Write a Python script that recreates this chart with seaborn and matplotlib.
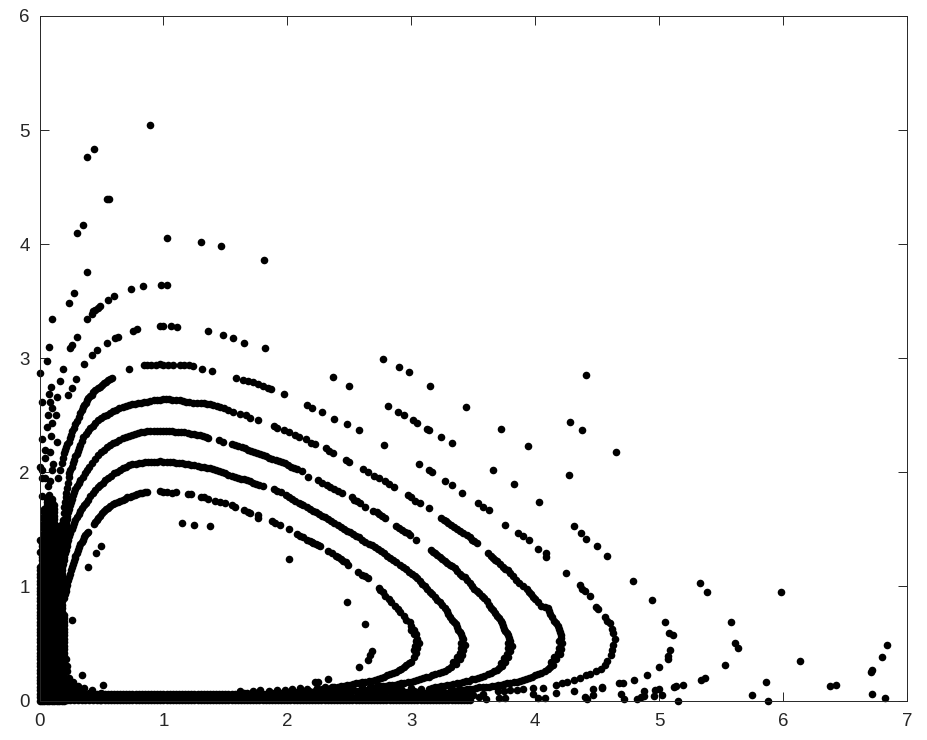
import pandas as pd
import matplotlib
matplotlib.use('Agg')
import matplotlib.pyplot as plt
import seaborn as sns

# orbits, innermost first, (x, y)
orbit_1 = [(.2,.9),(.21,.96),(.22,1.01),(.23,1.06),(.245,1.11),(.26,1.17),(.275,1.22),(.29,1.27),(.31,1.32),(.33,1.37),(.35,1.41),(.37,1.45),(.39,1.48),
    (.44,1.55),(.46,1.58),(.49,1.62),(.52,1.66),(.55,1.69),(.59,1.72),(.63,1.74),(.67,1.76),(.71,1.78),(.75,1.79),(.79,1.81),(.83,1.82),(.87,1.83),(.97,1.84),(1.0,1.83),(1.03,1.83),(1.07,1.82),(1.1,1.83),
    (1.2,1.81),(1.22,1.81),(1.3,1.78),(1.33,1.78),(1.36,1.77),(1.42,1.75),(1.46,1.74),(1.5,1.73),(1.55,1.71),(1.58,1.70),(1.65,1.67),(1.68,1.65),(1.7,1.64),(1.76,1.63),(1.76,1.60),(1.88,1.57),(1.9,1.56),(1.94,1.54),
    (2.01,1.50),(2.08,1.46),(2.1,1.44),(2.13,1.43),(2.16,1.41),(2.2,1.39),(2.23,1.37),(2.26,1.35),(2.33,1.31),(2.36,1.29),(2.39,1.27),(2.43,1.24),(2.47,1.21),(2.49,1.19),(2.57,1.13),(2.6,1.10),(2.63,1.09),(2.65,1.07),
    (2.74,.99),(2.75,.97),(2.77,.95),(2.79,.92),(2.82,.89),(2.84,.86),(2.87,.83),(2.89,.80),(2.91,.78),(2.94,.74),(2.96,.71),(2.99,.69),(3.0,.65),(3.02,.62),(3.04,.58),(3.05,.54),(3.06,.50),(3.05,.46),(3.04,.42),(3.02,.38),(3.0,.34),
    (2.96,.31),(2.92,.28),(2.88,.25),(2.83,.23),(2.78,.21),(2.73,.19),(2.68,.175),(2.63,.165),(2.58,.155),(2.53,.145),(2.48,.135),(2.43,.125),(2.38,.115),(2.33,.105),(2.28,.10),(2.23,.095)]
orbit_1_more = [(.205,.93),(.215,.985),(.225,1.035),(.238,1.085),(.252,1.14),(.268,1.195),(.283,1.245),(.3,1.295),(.32,1.345),(.34,1.39),(.36,1.43),(.38,1.465),(.45,1.565),(.475,1.6),(.505,1.64),(.535,1.675),(.57,1.705),(.61,1.73),(.65,1.75),(.69,1.77),(.73,1.785),(.77,1.8),(.81,1.815),(.85,1.825),
    (2.18,1.4),(2.21,1.38),(2.245,1.36),(2.41,1.255),(2.45,1.225),(2.98,.325),(2.94,.295),(2.9,.265),(2.855,.24),(2.805,.22),(2.755,.2),(2.705,.18),(2.655,.17),(2.605,.16),(2.555,.15),(2.505,.14),(2.455,.13),(2.405,.12),(2.355,.11),(2.305,.1),
    (3.02,.44),(3.03,.48),(3.04,.52),(3.02,.58),(3.0,.62)]

orbit_2 = [(.19,1.2),(.2,1.26),(.21,1.32),(.225,1.38),(.24,1.44),(.26,1.5),(.28,1.56),(.3,1.61),(.33,1.66),(.36,1.71),(.39,1.76),(.43,1.82),(.47,1.87),(.51,1.91),(.55,1.95),(.6,1.99),(.65,2.02),(.7,2.05),(.75,2.07),(.8,2.08),(.85,2.09),(.9,2.09),(.95,2.09),(1.0,2.09),(1.05,2.09),(1.1,2.085),(1.15,2.08),(1.2,2.07),(1.25,2.06),(1.3,2.05),(1.35,2.04),(1.4,2.03),(1.45,2.01),(1.5,1.99),(1.55,1.97),(1.6,1.95),(1.65,1.94),(1.7,1.92),(1.75,1.90),(1.8,1.88),(1.89,1.85),(1.92,1.84),(1.95,1.83),
    (1.99,1.80),(2.04,1.77),(2.09,1.73),(2.13,1.71),(2.18,1.68),(2.23,1.65),(2.28,1.62),(2.33,1.59),(2.38,1.56),(2.43,1.52),(2.48,1.49),(2.53,1.46),(2.58,1.43),(2.63,1.39),(2.68,1.36),(2.73,1.33),(2.78,1.29),(2.83,1.25),(2.88,1.21),(2.93,1.17),(2.98,1.13),(3.03,1.09),(3.07,1.05),(3.11,1.0),(3.15,.95),(3.19,.91),(3.23,.86),(3.27,.81),(3.3,.76),(3.33,.71),(3.36,.67),(3.38,.62),(3.4,.58),(3.42,.54),(3.43,.49),(3.42,.44),(3.41,.40),(3.39,.36),(3.36,.32),
    (3.32,.29),(3.27,.26),(3.22,.24),(3.17,.22),(3.12,.205),(3.07,.19),(3.02,.175),(2.97,.16),(2.92,.15),(2.87,.14),(2.82,.135),(2.77,.13),(2.72,.125),(2.67,.12)]
orbit_2_more = [(.195,1.23),(.205,1.29),(.218,1.35),(.232,1.41),(.25,1.47),(.27,1.53),(.29,1.585),(.315,1.635),(.345,1.685),(.375,1.735),(.41,1.79),(.45,1.845),(.49,1.89),(.53,1.93),(.575,1.97),(.625,2.005),(.675,2.035),(.725,2.06),(.775,2.075),(.825,2.085),(.875,2.09),(.925,2.09),(.975,2.095),(1.025,2.09),(1.075,2.09),(1.125,2.08),(1.175,2.075),(1.225,2.065),(1.275,2.055),(1.325,2.045),(1.375,2.035),(1.425,2.02),(1.475,2.0),(1.525,1.98),(1.575,1.96),(1.625,1.945),(1.675,1.93),(1.725,1.91),(1.775,1.89),
    (2.015,1.785),(2.065,1.75),(2.11,1.72),(2.155,1.695),(2.205,1.665),(2.255,1.635),(2.305,1.605),(2.355,1.575),(2.405,1.54),(2.455,1.505),(2.505,1.475),(2.555,1.445),(2.605,1.41),(2.655,1.375),(2.705,1.345),(2.755,1.31),(2.805,1.27),(2.855,1.23),(2.905,1.19),(2.955,1.15),(3.005,1.11),(3.05,1.07),(3.09,1.025),(3.13,.975),(3.17,.93),(3.21,.885),(3.25,.835),(3.285,.785),(3.315,.735),(3.345,.69),(3.37,.645),(3.39,.6),(3.41,.56),(3.4,.5),(3.4,.46),(3.39,.42),(3.37,.38),(3.34,.34),
    (3.295,.275),(3.245,.25),(3.195,.23),(3.145,.21),(3.095,.195),(3.045,.18),(2.995,.165),(2.945,.155),(2.895,.145),(2.845,.135),(2.795,.13),(2.745,.125)]

orbit_3 = [(.18,1.35),(.19,1.41),(.2,1.47),(.21,1.53),(.22,1.59),(.23,1.65),(.245,1.71),(.26,1.77),(.28,1.83),(.3,1.88),(.33,1.93),(.35,1.96),(.38,2.02),(.42,2.08),(.47,2.15),(.52,2.2),(.57,2.24),(.62,2.27),(.67,2.3),(.72,2.32),(.77,2.335),(.82,2.35),(.87,2.36),(.92,2.36),(.97,2.365),(1.02,2.36),(1.07,2.36),(1.12,2.355),(1.17,2.35),(1.22,2.34),(1.27,2.33),(1.32,2.32),(1.36,2.305),
    (1.45,2.28),(1.48,2.27),(1.55,2.25),(1.58,2.24),(1.63,2.22),(1.68,2.2),(1.73,2.18),(1.78,2.16),(1.83,2.14),(1.88,2.12),(1.93,2.10),(1.98,2.08),(2.03,2.05),(2.08,2.03),(2.12,2.01),(2.17,1.96),(2.25,1.93),(2.28,1.91),(2.32,1.89),(2.38,1.85),(2.44,1.82),(2.52,1.78),(2.54,1.76),(2.59,1.73),(2.63,1.70),(2.69,1.66),(2.72,1.65),(2.76,1.62),(2.79,1.60),(2.88,1.53),(2.9,1.51),(2.95,1.48),(2.99,1.45),(3.04,1.41),
    (3.16,1.32),(3.19,1.29),(3.23,1.26),(3.27,1.22),(3.31,1.19),(3.35,1.16),(3.39,1.11),(3.43,1.08),(3.47,1.03),(3.51,.98),(3.55,.94),(3.59,.9),(3.63,.84),(3.66,.79),(3.69,.74),(3.72,.7),(3.74,.65),(3.76,.61),(3.78,.57),(3.8,.52),(3.81,.48),(3.8,.43),(3.78,.38),(3.76,.34),(3.73,.30),(3.69,.27),(3.64,.24),(3.59,.215),(3.54,.2),(3.49,.185),(3.44,.17),(3.39,.155),(3.34,.145),(3.29,.135),(3.24,.125),(3.19,.115),(3.14,.105)]
orbit_3_more = [(.185,1.38),(.195,1.44),(.205,1.5),(.215,1.56),(.225,1.62),(.238,1.68),(.252,1.74),(.27,1.8),(.29,1.855),(.315,1.905),(.365,1.99),(.4,2.05),(.445,2.115),(.495,2.175),(.545,2.22),(.595,2.255),(.645,2.285),(.695,2.31),(.745,2.33),(.795,2.345),(.845,2.355),(.895,2.36),(.945,2.36),(.995,2.365),(1.045,2.36),(1.095,2.355),(1.145,2.35),(1.195,2.345),(1.245,2.335),(1.295,2.325),(1.34,2.31),
    (1.605,2.23),(1.655,2.21),(1.705,2.19),(1.755,2.17),(1.805,2.15),(1.855,2.13),(1.905,2.11),(1.955,2.09),(2.005,2.065),(2.055,2.04),(2.345,1.87),(2.41,1.835),(2.565,1.745),(2.74,1.635),(2.925,1.495),(2.97,1.465),
    (3.175,1.305),(3.21,1.275),(3.25,1.24),(3.29,1.205),(3.33,1.175),(3.37,1.135),(3.41,1.095),(3.45,1.055),(3.49,1.005),(3.53,.96),(3.57,.92),(3.61,.87),(3.645,.815),(3.675,.765),(3.705,.72),(3.73,.675),(3.75,.63),(3.77,.59),(3.79,.545),(3.78,.5),(3.78,.46),(3.77,.41),(3.75,.37),(3.72,.33),(3.71,.285),(3.665,.255),(3.615,.23),(3.565,.21),(3.515,.19),(3.465,.175),(3.415,.16),(3.365,.15),(3.315,.14),(3.265,.13),(3.215,.12),(3.165,.11)]

orbit_4 = [(.17,1.4),(.175,1.46),(.18,1.52),(.19,1.58),(.2,1.7),(.21,1.78),(.22,1.86),(.235,1.96),(.25,2.02),(.27,2.08),(.29,2.14),(.31,2.19),(.33,2.24),(.355,2.31),(.39,2.36),(.43,2.41),(.47,2.46),(.52,2.49),(.57,2.52),(.62,2.55),(.67,2.57),(.72,2.59),(.77,2.6),(.82,2.61),(.87,2.62),(.92,2.63),(.97,2.635),(1.02,2.64),(1.07,2.635),(1.13,2.63),(1.18,2.62),(1.24,2.61),(1.3,2.61),(1.35,2.6),(1.4,2.59),(1.46,2.57),(1.52,2.55),(1.56,2.53),(1.62,2.51),(1.67,2.5),(1.7,2.48),(1.76,2.46),(1.89,2.41),(1.92,2.39),(1.97,2.37),(2.01,2.35),(2.06,2.33),(2.09,2.31),
    (2.15,2.29),(2.19,2.26),(2.22,2.25),(2.31,2.21),(2.34,2.19),(2.37,2.17),(2.47,2.11),(2.5,2.09),(2.61,2.03),(2.65,2.0),(2.7,1.97),(2.74,1.95),(2.79,1.92),(2.82,1.9),(2.86,1.87),(2.97,1.8),(3.0,1.78),(3.03,1.75),(3.07,1.73),(3.14,1.69),(3.24,1.6),(3.28,1.57),(3.32,1.54),(3.37,1.5),(3.42,1.47),(3.45,1.45),(3.49,1.41),(3.53,1.38),
    (3.62,1.29),(3.66,1.25),(3.69,1.22),(3.74,1.17),(3.78,1.14),(3.82,1.09),(3.87,1.03),(3.93,.98),(3.97,.93),(4.0,.89),(4.05,.83),(4.1,.81),(4.12,.76),(4.15,.7),(4.18,.65),(4.2,.6),(4.21,.55),(4.22,.5),(4.21,.45),(4.2,.41),(4.17,.36),(4.14,.31),(4.1,.28),(4.05,.24),(4.0,.22),(3.95,.195),(3.9,.18),(3.85,.165),(3.8,.155),(3.75,.145),(3.7,.135),(3.65,.125),(3.6,.12),(3.55,.115),(3.5,.105),(3.45,.10),(3.4,.09),(3.35,.085)]
orbit_4_more = [(.172,1.43),(.178,1.49),(.185,1.55),(.195,1.64),(.205,1.74),(.215,1.82),(.228,1.91),(.242,1.99),(.26,2.05),(.28,2.11),(.3,2.165),(.32,2.215),(.342,2.275),(.372,2.335),(.41,2.385),(.45,2.435),(.495,2.475),(.545,2.505),(.595,2.535),(.645,2.56),(.695,2.58),(.745,2.595),(.795,2.605),(.845,2.615),(.895,2.625),(.945,2.63),(.995,2.64),(1.045,2.64),(1.1,2.63),(1.155,2.625),(1.21,2.615),(1.27,2.61),(1.325,2.605),(1.375,2.595),(1.43,2.58),(1.49,2.56),
    (3.26,1.585),(3.3,1.555),(3.345,1.52),(3.395,1.485),(3.47,1.43),(3.51,1.395),(3.64,1.27),(3.675,1.235),(3.715,1.195),(3.76,1.155),(3.8,1.115),(3.845,1.06),(3.9,1.005),(3.95,.955),(3.985,.91),(4.025,.86),(4.075,.82),(4.11,.785),(4.135,.73),(4.165,.675),(4.19,.625),(4.205,.575),(4.19,.52),(4.19,.46),(4.18,.42),(4.155,.385),(4.13,.335),(4.12,.295),(4.075,.26),(4.025,.23),(3.975,.205),(3.925,.185),(3.875,.17),(3.825,.16),(3.775,.15),(3.725,.14),(3.675,.13),(3.625,.12),(3.575,.115),(3.525,.11),(3.475,.1),(3.425,.095),(3.375,.09)]

orbit_5 = [(.165,2.02),(.18,2.08),(.2,2.17),(.215,2.22),(.235,2.27),(.255,2.33),(.275,2.39),(.3,2.45),(.33,2.52),(.35,2.57),(.375,2.61),(.395,2.65),(.42,2.68),(.45,2.72),(.49,2.75),(.52,2.78),(.55,2.81),(.585,2.83),(.725,2.91),(.84,2.94),(.87,2.94),(.9,2.945),(.94,2.945),(.97,2.95),(1.0,2.94),(1.04,2.94),(1.08,2.94),(1.13,2.94),(1.17,2.94),(1.21,2.94),(1.24,2.93),(1.31,2.91),(1.39,2.89),(1.585,2.83),(1.64,2.81),(1.68,2.8),(1.72,2.79),(1.76,2.77),(1.8,2.76),(1.84,2.74),(1.87,2.73),(1.97,2.69),
    (2.16,2.59),(2.2,2.56),(2.28,2.53),(2.38,2.47),(2.48,2.42),(2.58,2.37),(3.06,2.07),(3.14,2.02),(3.17,2.0),(3.27,1.92),(3.33,1.89),(3.41,1.82),(3.54,1.73),(3.58,1.70),(3.63,1.67),(3.76,1.54),(3.86,1.47),(3.90,1.44),(3.95,1.41),(4.02,1.33),(4.09,1.29),(4.09,1.26),
    (4.25,1.12),(4.36,1.01),(4.38,.98),(4.40,.96),(4.44,.92),(4.49,.82),(4.51,.8),(4.56,.73),(4.58,.7),(4.60,.68),(4.62,.63),(4.63,.59),(4.64,.54),(4.63,.49),(4.62,.44),(4.61,.40),(4.58,.35),(4.56,.31),(4.53,.28),(4.49,.26),(4.44,.23),(4.41,.22),(4.36,.2),(4.31,.18),(4.26,.165),(4.22,.15),(4.17,.14)]
orbit_5_more = [(.19,2.125),(.208,2.195),(.225,2.245),(.245,2.3),(.265,2.36),(.288,2.42),(.315,2.485),(.34,2.545),(.362,2.59),(.385,2.63),(.408,2.665),(.435,2.7),(.47,2.735),(.505,2.765),(.535,2.795),(.57,2.82)]

orbit_6 = [(.233,2.68),(.26,2.74),(.294,2.82),(.362,2.95),(.42,3.03),(.46,3.07),(.545,3.13),(.61,3.18),(.63,3.19),(.757,3.24),(.79,3.26),(.97,3.28),(1.0,3.28),(1.06,3.28),(1.11,3.27),(1.36,3.24),(1.48,3.20),(1.56,3.18),(1.65,3.13),(1.82,3.09),(2.37,2.84),(2.50,2.76),
    (2.81,2.58),(2.89,2.53),(2.94,2.50),(3.01,2.46),(3.05,2.43),(3.13,2.38),(3.14,2.37),(3.24,2.31),(3.33,2.26),(3.66,2.02),(3.83,1.90),(4.03,1.74),(4.31,1.53),(4.37,1.47),(4.41,1.42),(4.50,1.35),(4.58,1.27),
    (4.79,1.05),(4.94,.88),(5.05,.69),(5.08,.59),(5.11,.57),(5.09,.44),(5.07,.39),(5.07,.36),(5.0,.29),(4.9,.22),(4.80,.18),(4.71,.15),(4.68,.15),(4.54,.12)]

orbit_7 = [(.247,3.09),(.265,3.12),(.30,3.19),(.384,3.34),(.42,3.39),(.435,3.41),(.45,3.42),(.47,3.44),(.488,3.46),(.556,3.51),(.604,3.55),(.738,3.61),(.835,3.63),(.98,3.64),(1.03,3.64)]

# single points outside the orbits
stray_x = [.888,.383,.44,.547,.56,.305,.348,.385,.276,.24,.10,.074,.06,0.0,.192,.168,.09,.08,.14,1.03,1.30,1.467,1.81,
    2.90,2.77,2.98,3.15,4.41,4.28,4.38,4.65,3.44,3.72,3.94,2.78,4.27,2.48,2.63,2.68,2.665,2.65,2.58,2.22,2.25,2.33,
    .26,.34,.51,.39,.456,.497,1.147,1.25,1.375,2.01,
    5.33,5.39,5.58,5.61,5.64,5.53,5.37,5.34,5.75,5.86,5.88,5.98,6.14,6.38,6.43,6.84,6.80,6.72,6.71,6.72,6.82,
    4.69,4.72,4.82,4.85,4.88,4.88,4.96,5.02,4.97,5.0,5.12,5.14,5.19,5.15,
    3.98,4.06,4.17,4.31,4.47,4.54,4.40,4.42,4.47,4.02,4.08,3.71,3.76,3.98,3.7,3.75,3.8,3.85,3.9,3.5,3.55,3.58,3.6]
stray_y = [5.045,4.76,4.83,4.40,4.40,4.10,4.17,3.76,3.57,3.48,3.34,3.10,2.98,2.87,2.91,2.80,2.75,2.69,2.66,4.05,4.02,3.98,3.86,
    2.92,2.99,2.88,2.76,2.85,2.44,2.37,2.18,2.57,2.38,2.23,2.24,1.98,.86,.67,.437,.40,.355,.297,.16,.165,.185,
    .706,.22,.135,1.17,1.29,1.35,1.56,1.54,1.53,1.24,
    1.03,.95,.69,.50,.46,.31,.20,.18,.05,.16,0.0,.95,.35,.13,.14,.49,.38,.27,.25,.06,.02,
    .06,.01,.01,.03,.04,.08,.04,.05,.09,.10,.12,.13,.14,0.0,
    .11,.11,.07,.08,.10,.11,.03,.01,.05,.02,.02,.02,.02,.06,.08,.085,.09,.095,.10,.05,.03,.06,.01]

# loose points above the blob on the y axis
upper_x = [.018,.085,.066,.10,.023,.093,.138,.044,.085,.044,0.0,.018,.10,.11,.018,.085,.07,.15,.044,.018,0.0,0.0,.13,.1,.06]
upper_y = [2.62,2.62,2.50,2.43,2.29,2.32,2.27,2.20,2.18,2.13,2.05,2.02,2.02,2.07,1.95,1.92,1.88,1.95,1.95,1.79,1.41,1.30,2.5,2.56,2.4]

# solid blob on the y axis, y values per x column
blob_rows = [0,.03,.06,.09,.12,.15,.18,.21,.24,.27,.3,.33,.36,.39,.42,.45,.48,.51,.54,.57,.6,.63,.66,.69,.72,.75,.78,.81,.84,.87,.9,.93,.96,.99,1.02,1.05,1.08,1.11,1.14,1.17,1.2,1.23,1.26,1.29,1.32,1.35,1.38,1.41,1.44,1.47,1.5,1.53,1.56,1.59,1.62,1.65,1.68,1.71,1.74,1.77,1.8]
blob_x = [0.0,.02,.04,.06,.08,.10,.12,.14,.16,.18,.2]
blob_counts = [40,48,57,60,61,60,58,52,48,40,26]

# where the blob turns into the band along the x axis
corner_x = [.22,.24,.27,.31,.36,.42,.5,.22,.22,.22,.26,.26,.26,.3,.3,.34,.34,.38,.42,.46,.24,.24,.28,.28,.32,.36,.4,.44,.21,.22]
corner_y = [.26,.2,.16,.13,.11,.09,.07,.05,.1,.15,.03,.08,.12,.05,.1,.03,.08,.05,.03,.05,.02,.13,.02,.07,.07,.02,.07,.06,.36,.3]
corner_row_x = [.22,.25,.28,.31,.34,.37,.4,.43,.46,.49]

# band along the x axis
band_x = [.5,.55,.6,.65,.7,.75,.8,.85,.9,.95,1.0,1.05,1.1,1.15,1.2,1.25,1.3,1.35,1.4,1.45,1.5,1.55,1.6,1.65,1.7,1.75,1.8,1.85,1.9,1.95,
    2.0,2.05,2.1,2.15,2.2,2.25,2.3,2.35,2.4,2.45,2.5,2.55,2.6,2.65,2.7,2.75,2.8,2.85,2.9,2.95,3.0,3.05,3.1,3.15,3.2,3.25,3.3,3.35,3.4,3.45]
band_x_off = [.525,.575,.625,.675,.725,.775,.825,.875,.925,.975,1.025,1.075,1.125,1.175,1.225,1.275,1.325,1.375,1.425,1.475,1.525,1.575,1.625,1.675,1.725,1.775,1.825,1.875,1.925,1.975,
    2.025,2.075,2.125,2.175,2.225,2.275,2.325,2.375,2.425,2.475,2.525,2.575,2.625,2.675,2.725,2.775,2.825,2.875,2.925,2.975,3.025,3.075,3.125,3.175,3.225,3.275,3.325,3.375,3.425,3.475]
band_low = [.006,.004,.008,.006,.004,.006,.008,.004,.006,.004,.006,.008,.004,.006,.004,.008,.006,.004,.006,.008,.004,.006,.004,.006,.008,.004,.006,.004,.008,.006,
    .004,.006,.008,.004,.006,.004,.008,.006,.004,.006,.004,.008,.006,.004,.006,.004,.008,.006,.004,.006,.004,.008,.006,.004,.006,.004,.008,.006,.004,.006]
band_off = [.03,.032,.028,.03,.03,.032,.028,.03,.03,.032,.03,.028,.03,.032,.03,.028,.03,.032,.03,.028,.03,.032,.03,.028,.03,.032,.03,.028,.03,.032,
    .03,.028,.03,.032,.03,.028,.03,.032,.03,.028,.03,.032,.03,.028,.03,.032,.03,.028,.03,.032,.03,.028,.03,.032,.03,.028,.03,.032,.03,.028]
band_mid = [.055,.057,.053,.055,.057,.055,.053,.055,.057,.055,.055,.057,.053,.055,.057,.055,.053,.055,.057,.06,.055,.057,.06,.065,.057,.065,.06,.065,.07,.065,
    .07,.075,.075,.08,.075,.08,.075,.085,.08,.085,.09,.085,.09,.095,.095,.09,.085,.08,.085,.075,.08,.075,.07,.075,.065,.07,.065,.06,.065,.055]
top_x = [1.62,1.72,1.78,1.85,1.92,1.98,2.04,2.1,2.16,2.24,2.3,2.36,2.45,2.52,2.6,2.68,2.76,2.84,2.92,3.0,3.08,3.16,3.24,3.32]
top_y = [.08,.085,.09,.085,.095,.09,.105,.11,.105,.11,.115,.12,.11,.115,.12,.11,.115,.11,.105,.11,.1,.095,.1,.09]

orbits = [orbit_1, orbit_1_more, orbit_2, orbit_2_more, orbit_3, orbit_3_more, orbit_4, orbit_4_more, orbit_5, orbit_5_more, orbit_6, orbit_7]
xs = [p[0] for orbit in orbits for p in orbit]
ys = [p[1] for orbit in orbits for p in orbit]
xs += stray_x + upper_x + corner_x + top_x
ys += stray_y + upper_y + corner_y + top_y
for row_y in [band_low, band_off, band_mid]:
    xs += band_x + band_x_off + corner_row_x
    ys += row_y + row_y + row_y[:len(corner_row_x)]
for col_x, count in zip(blob_x, blob_counts):
    xs += [col_x] * count
    ys += blob_rows[:count]

df = pd.DataFrame({'x': xs, 'y': ys})

sns.set_style('white')
plt.rcParams['font.family'] = ['Liberation Sans', 'DejaVu Sans']

fig = plt.figure(figsize=(9.27, 7.4), dpi=100)
ax = fig.add_axes([39.5 / 927, 39.5 / 740, 867.5 / 927, 684.5 / 740])
sns.scatterplot(data=df, x='x', y='y', color='black', s=30, linewidth=0, clip_on=False, ax=ax)
ax.set_xlim(0, 7)
ax.set_ylim(0, 6)
ax.set_xlabel('')
ax.set_ylabel('')
ax.tick_params(direction='in', length=6.5, width=0.7, colors='#262626', labelsize=13.5, top=True, right=True, bottom=True, left=True)
ax.tick_params(axis='x', pad=9)
ax.tick_params(axis='y', pad=7)
for side in ax.spines.values():
    side.set_linewidth(0.7)
    side.set_color('#262626')
fig.savefig('out.png', dpi=100)
